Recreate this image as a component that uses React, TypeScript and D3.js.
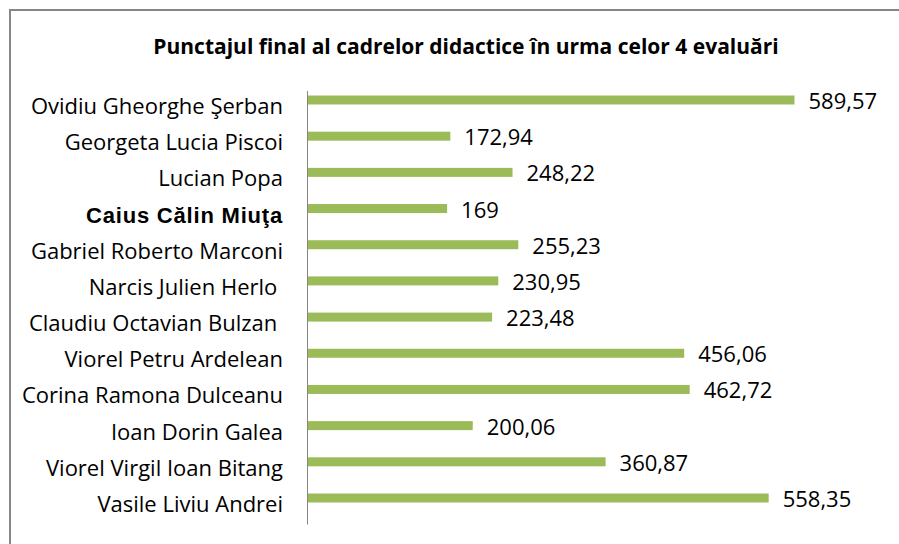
import React, { useEffect, useRef } from "react";
import * as d3 from "d3";

const title = "Punctajul final al cadrelor didactice în urma celor 4 evaluări";

// top to bottom
const teachers = [
  "Ovidiu Gheorghe Şerban",
  "Georgeta Lucia Piscoi",
  "Lucian Popa",
  "Caius Călin Miuţa",
  "Gabriel Roberto Marconi",
  "Narcis Julien Herlo ",
  "Claudiu Octavian Bulzan ",
  "Viorel Petru Ardelean",
  "Corina Ramona Dulceanu",
  "Ioan Dorin Galea",
  "Viorel Virgil Ioan Bitang",
  "Vasile Liviu Andrei",
];

const scores = [
  589.57, 172.94, 248.22, 169, 255.23, 230.95, 223.48, 456.06, 462.72, 200.06,
  360.87, 558.35,
];

const W = 899;
const H = 544;
const BAR_H = 9;

const fmt = (v: number) => {
  const s = Number.isInteger(v) ? String(v) : v.toFixed(2);
  return s.replace(".", ",");
};

const App = () => {
  const svgRef = useRef<SVGSVGElement>(null);

  useEffect(() => {
    const svg = d3.select(svgRef.current);
    svg.selectAll("*").remove();

    // outer frame (right and bottom run past the picture)
    svg
      .append("rect")
      .attr("x", 10)
      .attr("y", 10)
      .attr("width", W + 20)
      .attr("height", H + 20)
      .attr("fill", "#fff")
      .attr("stroke", "#868686")
      .attr("stroke-width", 2);

    svg
      .append("text")
      .attr("x", 466)
      .attr("y", 54)
      .attr("text-anchor", "middle")
      .attr("font-family", "'Open Sans', sans-serif")
      .attr("font-weight", "bold")
      .attr("font-size", 21)
      .attr("fill", "#000")
      .text(title);

    // bar centres
    const yScale = d3
      .scalePoint<number>()
      .domain(d3.range(teachers.length))
      .range([100, 498]);

    const xScale = d3.scaleLinear().domain([0, 700]).range([307.5, 885.7]);

    const g = svg.append("g");

    g.selectAll("rect.bar")
      .data(scores)
      .join("rect")
      .attr("class", "bar")
      .attr("x", xScale(0))
      .attr("y", (_, i) => yScale(i)! - BAR_H / 2)
      .attr("width", (d) => xScale(d) - xScale(0))
      .attr("height", BAR_H)
      .attr("fill", "#9BBB59");

    // axis line
    g.append("line")
      .attr("x1", xScale(0))
      .attr("x2", xScale(0))
      .attr("y1", 91)
      .attr("y2", 524.5)
      .attr("stroke", "#868686")
      .attr("stroke-width", 1);

    // value labels
    g.selectAll("text.val")
      .data(scores)
      .join("text")
      .attr("class", "val")
      .attr("x", (d) => xScale(d) + 14)
      .attr("y", (_, i) => yScale(i)! + 9)
      .attr("font-family", "'Open Sans', sans-serif")
      .attr("font-size", 22)
      .attr("fill", "#000")
      .text((d) => fmt(d));

    // category labels
    g.selectAll("text.cat")
      .data(teachers)
      .join("text")
      .attr("class", "cat")
      .attr("x", 283)
      .attr("y", (_, i) => yScale(i)! + 14)
      .attr("text-anchor", "end")
      .style("white-space", "pre")
      .attr("font-family", (d) =>
        d.startsWith("Caius")
          ? "'Liberation Sans', Arial, sans-serif"
          : "'Open Sans', sans-serif"
      )
      .attr("font-weight", (d) => (d.startsWith("Caius") ? "bold" : "normal"))
      .attr("letter-spacing", (d) => (d.startsWith("Caius") ? 0.8 : 0))
      .attr("font-size", 22)
      .attr("fill", "#000")
      .text((d) => d);
  }, []);

  return (
    <svg
      ref={svgRef}
      width={W}
      height={H}
      style={{ position: "absolute", left: 0, top: 0 }}
    ></svg>
  );
};

export default App;
